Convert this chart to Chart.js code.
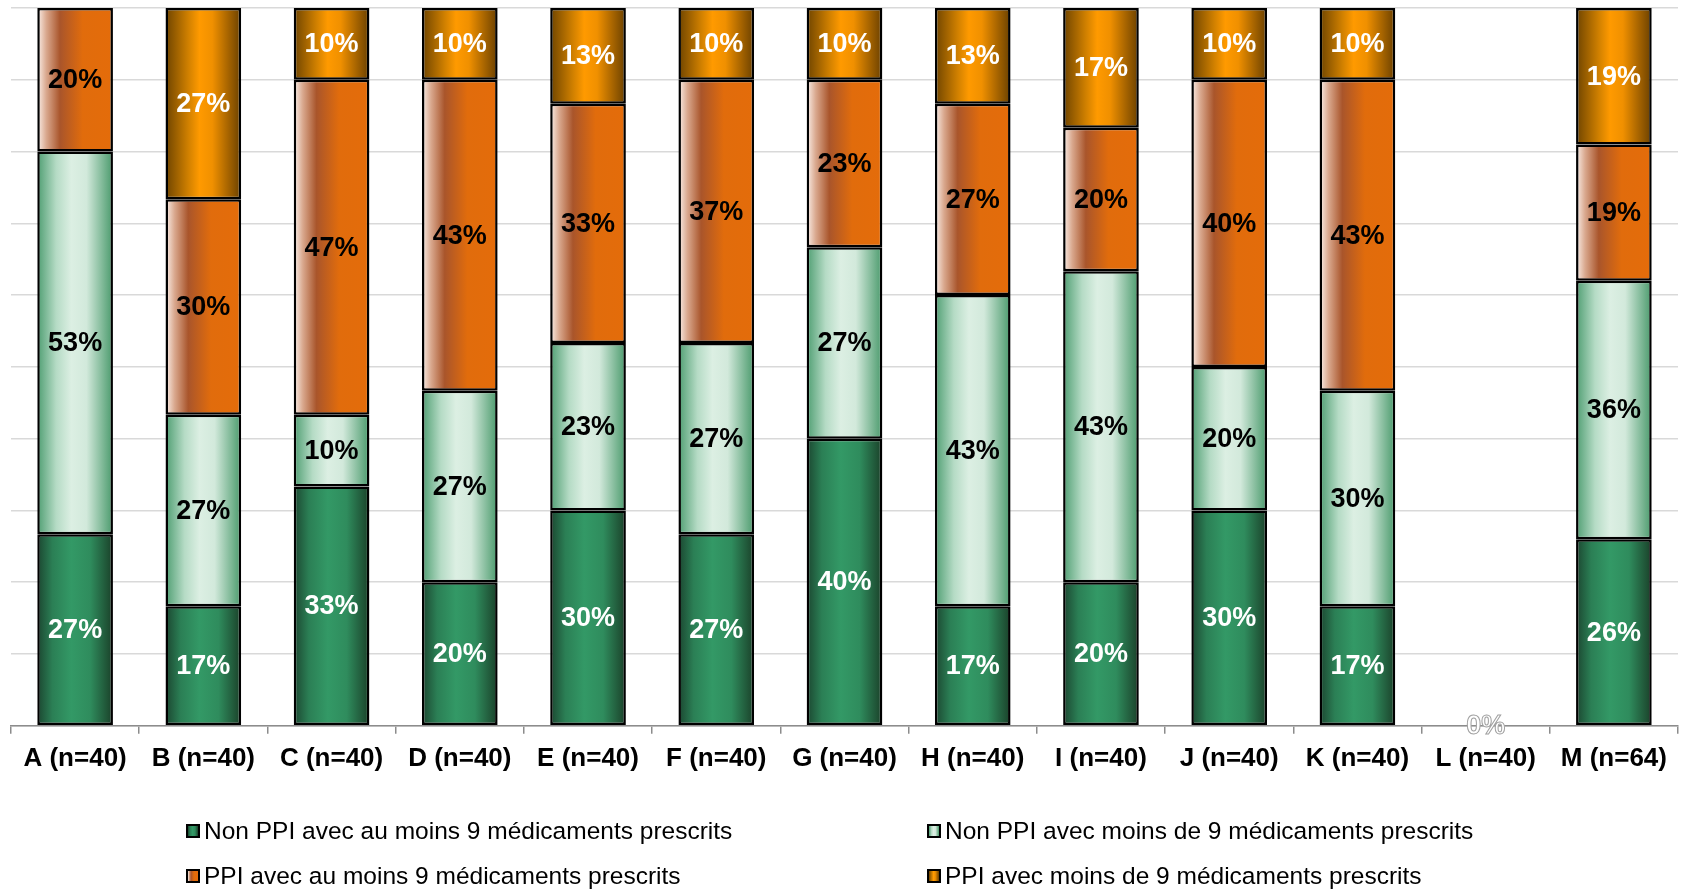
<!DOCTYPE html>
<html>
<head>
<meta charset="utf-8">
<script src="https://cdn.jsdelivr.net/npm/chart.js@4.4.1/dist/chart.umd.min.js"></script>
<style>
  html, body { margin: 0; padding: 0; background: #fff; }
  #wrap { position: relative; width: 1686px; height: 889px; }
  #legend { position: absolute; left: 0; top: 0; width: 1686px; height: 889px; pointer-events: none; }
  .lg { position: absolute; font-family: "Liberation Sans", Arial, sans-serif; font-size: 24.5px; line-height: 28px; color: #000; white-space: nowrap; display: flex; align-items: center; }
  .lg .box { width: 10px; height: 10px; border: 2px solid #000; margin-right: 4px; }
</style>
</head>
<body>
<div id="wrap">
  <canvas id="c" width="1686" height="889"></canvas>
  <div id="legend"></div>
</div>
<script>
const categories = ['A (n=40)','B (n=40)','C (n=40)','D (n=40)','E (n=40)','F (n=40)','G (n=40)','H (n=40)','I (n=40)','J (n=40)','K (n=40)','L (n=40)','M (n=64)'];
const nonPpiAuMoins9 = [26.67,16.67,33.33,20,30,26.67,40,16.67,20,30,16.67,0,26];
const nonPpiMoinsDe9 = [53.33,26.67,10,26.67,23.33,26.67,26.67,43.33,43.33,20,30,0,36];
const ppiAuMoins9   = [20,30,46.67,43.33,33.33,36.67,23.33,26.67,20,40,43.33,0,19];
const ppiMoinsDe9   = [0,26.67,10,10,13.33,10,10,13.33,16.67,10,10,0,19];
const seriesNames = [
  'Non PPI avec au moins 9 médicaments prescrits',
  'Non PPI avec moins de 9 médicaments prescrits',
  'PPI avec au moins 9 médicaments prescrits',
  'PPI avec moins de 9 médicaments prescrits'
];
const yMax = 100;
const yStep = 10;

// styles
const gradStops = [
  [[0,'#1b4630'],[0.2,'#2b7f55'],[0.45,'#339966'],[0.7,'#2f8c5d'],[1,'#1a4029']],
  [[0,'#4f9e72'],[0.25,'#b5dbc5'],[0.45,'#dcefe3'],[0.65,'#d2e9db'],[1,'#4a9a6c']],
  [[0,'#fbf0ea'],[0.12,'#d9a88e'],[0.3,'#a9552b'],[0.6,'#e16c0c'],[1,'#e46c0a']],
  [[0,'#6e4400'],[0.3,'#d08000'],[0.45,'#ff9a00'],[0.62,'#f09000'],[1,'#6a4000']]
];
const labelColors = ['#ffffff','#000000','#000000','#ffffff'];
const BAR_PCT = 0.59;

function gradientFor(stops) {
  return function(ctx) {
    const chart = ctx.chart;
    const xs = chart.scales && chart.scales.x;
    if (!xs || !chart.chartArea || ctx.dataIndex === undefined) return stops[2][1];
    const cw = (xs.right - xs.left) / categories.length;
    const bw = cw * BAR_PCT;
    const cx = xs.getPixelForValue(ctx.dataIndex);
    const g = chart.ctx.createLinearGradient(cx - bw / 2, 0, cx + bw / 2, 0);
    stops.forEach(s => g.addColorStop(s[0], s[1]));
    return g;
  };
}

const seriesData = [nonPpiAuMoins9, nonPpiMoinsDe9, ppiAuMoins9, ppiMoinsDe9];
const datasets = seriesData.map((d, i) => ({
  label: seriesNames[i],
  data: d,
  backgroundColor: gradientFor(gradStops[i]),
  borderColor: '#000',
  borderWidth: (ctx) => (ctx.raw ? 2.5 : 0),
  borderSkipped: false,
  barPercentage: BAR_PCT,
  categoryPercentage: 1.0
}));

const labelPlugin = {
  id: 'segLabels',
  afterDatasetsDraw(chart) {
    const ctx = chart.ctx;
    ctx.save();
    ctx.font = 'bold 27px "Liberation Sans", Arial, sans-serif';
    ctx.textAlign = 'center';
    ctx.textBaseline = 'middle';
    chart.data.datasets.forEach((ds, di) => {
      const meta = chart.getDatasetMeta(di);
      meta.data.forEach((el, idx) => {
        const v = ds.data[idx];
        if (!(v > 0) && di !== 0) return;
        const txt = Math.round(v) + '%';
        const y = (el.y + el.base) / 2;
        if (v > 0) {
          ctx.fillStyle = labelColors[di];
          ctx.fillText(txt, el.x, y + 1);
        } else {
          ctx.fillStyle = '#ffffff';
          ctx.fillText(txt, el.x, y + 1);
          ctx.strokeStyle = '#a0a0a0';
          ctx.lineWidth = 1;
          ctx.strokeText(txt, el.x, y + 1);
        }
      });
    });
    ctx.restore();
  }
};

new Chart(document.getElementById('c'), {
  type: 'bar',
  data: { labels: categories, datasets },
  options: {
    responsive: false,
    animation: false,
    layout: { padding: { left: 11, right: 8, top: 8, bottom: 106 } },
    plugins: { legend: { display: false }, tooltip: { enabled: false } },
    scales: {
      x: {
        stacked: true,
        grid: { drawOnChartArea: false, drawTicks: true, tickLength: 8, offset: true, color: '#8c8c8c', lineWidth: 1.5 },
        border: { display: true, color: '#8c8c8c', width: 1.5 },
        ticks: { color: '#000', padding: 9, font: { family: '"Liberation Sans", Arial, sans-serif', size: 26, weight: 'bold' } }
      },
      y: {
        stacked: true,
        min: 0, max: yMax,
        ticks: { display: false, stepSize: yStep },
        grid: { color: '#d9d9d9', lineWidth: 1.5, drawTicks: false },
        border: { display: false }
      }
    }
  },
  plugins: [labelPlugin]
});

// HTML legend (2 x 2 grid)
const legendPos = [[186, 817], [927, 817], [186, 862], [927, 862]];
const legend = document.getElementById('legend');
seriesNames.forEach((name, i) => {
  const item = document.createElement('div');
  item.className = 'lg';
  item.style.left = legendPos[i][0] + 'px';
  item.style.top = legendPos[i][1] + 'px';
  const box = document.createElement('span');
  box.className = 'box';
  box.style.background = 'linear-gradient(to right, ' + gradStops[i].map(s => s[1] + ' ' + (s[0] * 100) + '%').join(', ') + ')';
  const t = document.createElement('span');
  t.textContent = name;
  item.appendChild(box);
  item.appendChild(t);
  legend.appendChild(item);
});
</script>
</body>
</html>
